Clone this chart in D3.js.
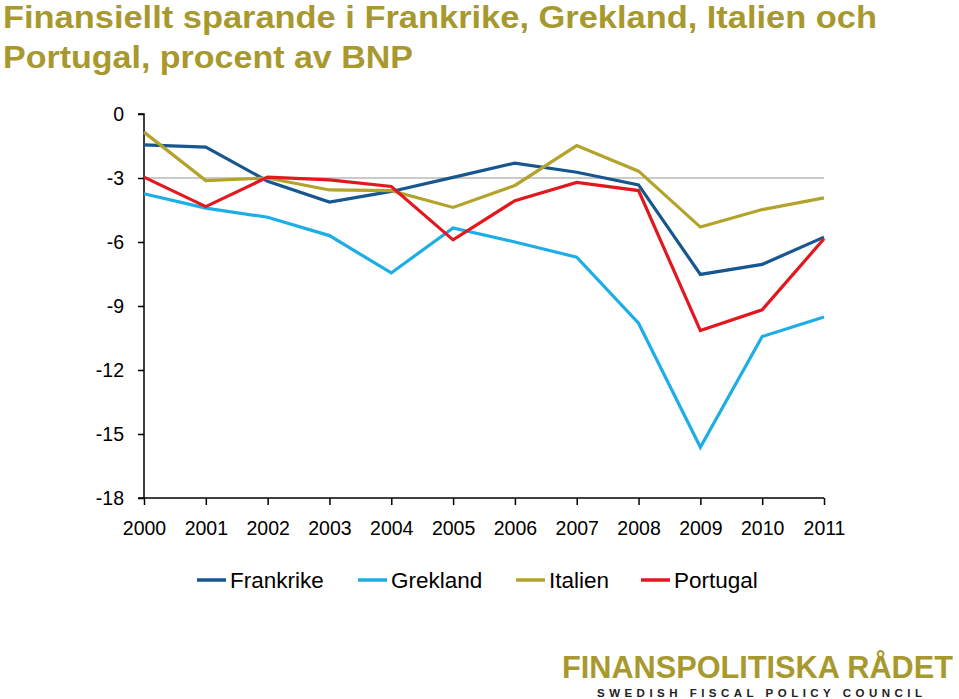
<!DOCTYPE html>
<html><head><meta charset="utf-8">
<script src="https://cdn.jsdelivr.net/npm/d3@7"></script>
<style>body{margin:0;background:#fff}svg{display:block;font-family:"Liberation Sans",Arial,sans-serif}</style>
</head><body>
<svg id="c" width="959" height="699"></svg>
<script>
const years = ["2000","2001","2002","2003","2004","2005","2006","2007","2008","2009","2010","2011"];
const frankrike = [-1.45,-1.55,-3.15,-4.13,-3.63,-2.97,-2.3,-2.73,-3.32,-7.52,-7.05,-5.77];
const grekland  = [-3.74,-4.41,-4.84,-5.7,-7.45,-5.34,-6.0,-6.71,-9.81,-15.62,-10.43,-9.52];
const italien   = [-0.85,-3.12,-3.0,-3.56,-3.59,-4.38,-3.35,-1.48,-2.68,-5.3,-4.48,-3.93];
const portugal  = [-2.96,-4.34,-2.96,-3.09,-3.4,-5.9,-4.06,-3.21,-3.59,-10.15,-9.18,-5.85];
const seriesNames = ["Frankrike","Grekland","Italien","Portugal"];
const yTicks = [0,-3,-6,-9,-12,-15,-18];
const refLine = -3;
const titleLines = ["Finansiellt sparande i Frankrike, Grekland, Italien och","Portugal, procent av BNP"];

const colors = ["#17578F","#1DAEE5","#B3A32A","#E3171E"];
const series = [frankrike, grekland, italien, portugal];

const svg = d3.select("#c");
const x = d3.scalePoint().domain(years).range([144, 824]);
const y = d3.scaleLinear().domain([-18, 0]).range([498, 114]);

// title
svg.append("g").selectAll("text").data(titleLines).join("text")
  .attr("x", 3).attr("y", (d,i)=>27.5+i*40)
  .attr("font-size", 31.5).attr("font-weight","bold").attr("fill","#A8992F")
  .attr("textLength",(d,i)=>i===0?874:410).attr("lengthAdjust","spacingAndGlyphs")
  .text(d=>d);

// reference line
svg.append("line").attr("x1", x(years[0])).attr("x2", x(years[years.length-1]))
  .attr("y1", y(refLine)).attr("y2", y(refLine)).attr("stroke","#B8B8B8").attr("stroke-width",1.3);

// y axis
const ya = svg.append("g").attr("transform",`translate(${x(years[0])},0)`)
  .call(d3.axisLeft(y).tickValues(yTicks).tickSize(6).tickPadding(14).tickFormat(d=>String(d)));
ya.select(".domain").attr("stroke","#000").attr("stroke-width",1.5).attr("d",`M-6,${y(0)}H0V${y(-18)}H-6`);
ya.selectAll(".tick line").attr("stroke","#000").attr("stroke-width",1.5);
ya.selectAll(".tick text").attr("font-size",19.5).attr("fill","#000").attr("font-family","Liberation Sans, Arial, sans-serif");

// x axis
const xa = svg.append("g").attr("transform",`translate(0,${y(-18)})`)
  .call(d3.axisBottom(x).tickSize(7).tickPadding(16));
xa.select(".domain").attr("stroke","#000").attr("stroke-width",1.5).attr("d",`M${x(years[0])},0H${x(years[years.length-1])}`);
xa.selectAll(".tick line").attr("stroke","#000").attr("stroke-width",1.5);
xa.selectAll(".tick text").attr("font-size",19.5).attr("fill","#000").attr("font-family","Liberation Sans, Arial, sans-serif");

// lines
const line = d3.line().x((d,i)=>x(years[i])).y(d=>y(d));
svg.append("g").selectAll("path").data(series).join("path")
  .attr("d", line).attr("fill","none")
  .attr("stroke",(d,i)=>colors[i]).attr("stroke-width",3.2).attr("stroke-linejoin","miter");

// legend
const legX = [197, 358, 516, 641];
const lg = svg.append("g").selectAll("g").data(seriesNames).join("g")
  .attr("transform",(d,i)=>`translate(${legX[i]},580)`);
lg.append("line").attr("x1",0).attr("x2",29).attr("y1",0).attr("y2",0)
  .attr("stroke",(d,i)=>colors[i]).attr("stroke-width",3.5);
lg.append("text").attr("x",33).attr("y",8).attr("font-size",22.5).attr("fill","#000").text(d=>d);

// logo
svg.append("text").attr("x",562).attr("y",678).attr("font-size",30.5).attr("font-weight","bold")
  .attr("fill","#A8992F").attr("textLength",391).attr("lengthAdjust","spacingAndGlyphs").text("FINANSPOLITISKA RÅDET");
svg.append("text").attr("x",597).attr("y",697).attr("font-size",11.5).attr("font-weight","bold")
  .attr("fill","#222").attr("textLength",325).attr("lengthAdjust","spacing").text("SWEDISH FISCAL POLICY COUNCIL");
</script>
</body></html>
